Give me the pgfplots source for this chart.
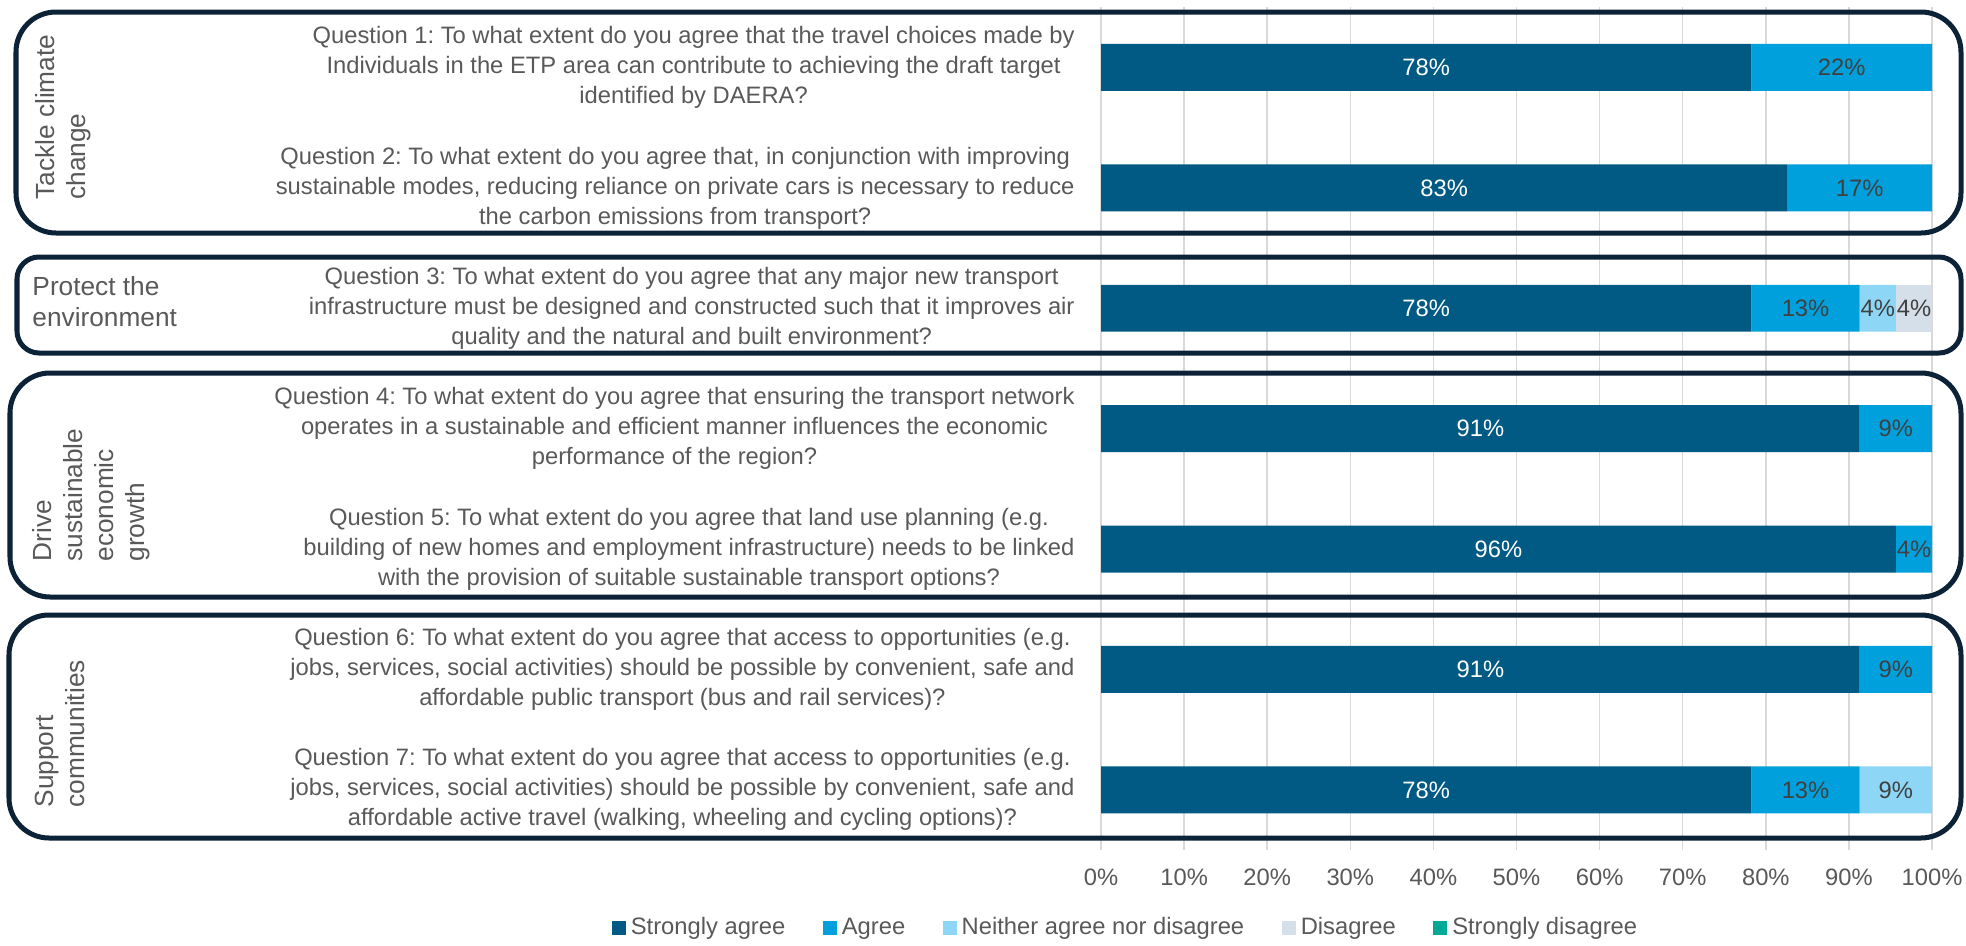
\documentclass[border=0pt]{standalone}
\usepackage{fontspec}
\setmainfont{Liberation Sans}
\usepackage{pgfplots}
\usepackage{pgfplotstable}
\pgfplotsset{compat=1.18}
\frenchspacing
\definecolor{sa}{HTML}{005A84}
\definecolor{ag}{HTML}{00A0DC}
\definecolor{ne}{HTML}{8DD6F5}
\definecolor{di}{HTML}{D5DFE9}
\definecolor{sd}{HTML}{00A896}
\definecolor{framec}{HTML}{0C2337}
\definecolor{txt}{HTML}{595959}
\definecolor{lbl}{HTML}{404040}
\definecolor{grd}{HTML}{D9D9D9}

\pgfplotstableread{
q sa ag ne di sd
0 78.26 21.74 0 0 0
1 82.61 17.39 0 0 0
2 78.26 13.04 4.35 4.35 0
3 91.30 8.70 0 0 0
4 95.65 4.35 0 0 0
5 91.30 8.70 0 0 0
6 78.26 13.04 8.70 0 0
}\tabdata

% label positions (segment midpoints) and rounded values
\pgfplotstableread{
x q lab
39.13 0 78
41.30 1 83
39.13 2 78
45.65 3 91
47.83 4 96
45.65 5 91
39.13 6 78
}\whitelabels
\pgfplotstableread{
x q lab
89.13 0 22
91.30 1 17
84.78 2 13
93.48 2 4
97.83 2 4
95.65 3 9
97.83 4 4
95.65 5 9
84.78 6 13
95.65 6 9
}\darklabels

\pgfplotsset{sqlegend/.style={legend image code/.code={\fill[##1] (0pt,-2.8pt) rectangle (5.6pt,2.8pt);}},
  frameaxis/.style={at={(440.4pt,-340pt)}, anchor=south west,
  scale only axis, width=332.4pt, height=337.1pt,
  xmin=0, xmax=100, ymin=-0.5, ymax=6.5, y dir=reverse}}

\begin{document}
\begin{tikzpicture}
\path[use as bounding box, fill=white] (0,0) rectangle (786.4pt,-378pt);
\begin{axis}[
  frameaxis,
  xbar stacked, bar width=0.39,
  xtick={0,10,...,100},
  xticklabels={0\%,10\%,20\%,30\%,40\%,50\%,60\%,70\%,80\%,90\%,100\%},
  xmajorgrids, major grid style={grd, line width=0.6pt},
  axis line style={draw=none}, tick style={draw=none},
  xticklabel style={font=\fontsize{9.5}{11}\selectfont, text=txt, inner sep=0pt, yshift=-7.4pt},
  ytick={0,...,6},
  yticklabels={
    {Question 1: To what extent do you agree that the travel choices made by\\Individuals in the ETP area can contribute to achieving the draft target\\identified by DAERA?},
    {Question 2: To what extent do you agree that, in conjunction with improving\\sustainable modes, reducing reliance on private cars is necessary to reduce\\the carbon emissions from transport?},
    {Question 3: To what extent do you agree that any major new transport\\infrastructure must be designed and constructed such that it improves air\\quality and the natural and built environment?},
    {Question 4: To what extent do you agree that ensuring the transport network\\operates in a sustainable and efficient manner influences the economic\\performance of the region?},
    {Question 5: To what extent do you agree that land use planning (e.g.\\building of new homes and employment infrastructure) needs to be linked\\with the provision of suitable sustainable transport options?},
    {Question 6: To what extent do you agree that access to opportunities (e.g.\\jobs, services, social activities) should be possible by convenient, safe and\\affordable public transport (bus and rail services)?},
    {Question 7: To what extent do you agree that access to opportunities (e.g.\\jobs, services, social activities) should be possible by convenient, safe and\\affordable active travel (walking, wheeling and cycling options)?}
  },
  yticklabel style={align=center, font=\fontsize{9.5}{12}\selectfont, text=txt, inner sep=0pt, xshift=-10.4pt},
  legend columns=5,
  legend style={at={(0.0313,-0.0926)}, anchor=center, draw=none, fill=none,
    font=\fontsize{9.5}{11}\selectfont, text=txt,
    /tikz/every even column/.append style={column sep=13pt}},
  sqlegend,
]
\addplot[fill=sa, draw=none] table[x=sa, y=q] {\tabdata};
\addplot[fill=ag, draw=none] table[x=ag, y=q] {\tabdata};
\addplot[fill=ne, draw=none] table[x=ne, y=q] {\tabdata};
\addplot[fill=di, draw=none] table[x=di, y=q] {\tabdata};
\addplot[fill=sd, draw=none] table[x=sd, y=q] {\tabdata};
\legend{Strongly agree, Agree, Neither agree nor disagree, Disagree, Strongly disagree}
\end{axis}
\begin{axis}[frameaxis, hide axis]
\addplot[only marks, mark=none, nodes near coords={\pgfplotspointmeta\%},
  point meta=explicit symbolic,
  every node near coord/.append style={anchor=center, inner sep=0pt, text=white, font=\fontsize{9.5}{11}\selectfont}]
  table[x=x, y=q, meta=lab] {\whitelabels};
\addplot[only marks, mark=none, nodes near coords={\pgfplotspointmeta\%},
  point meta=explicit symbolic,
  every node near coord/.append style={anchor=center, inner sep=0pt, text=lbl, font=\fontsize{9.5}{11}\selectfont}]
  table[x=x, y=q, meta=lab] {\darklabels};
\end{axis}
\begin{scope}[x=0.4pt, y=-0.4pt]
\draw[framec, line width=2pt, rounded corners=16pt] (16,12) rectangle (1961,233);
\draw[framec, line width=2pt, rounded corners=8.8pt] (17,257) rectangle (1961,353);
\draw[framec, line width=2pt, rounded corners=16pt] (10,373) rectangle (1961,597);
\draw[framec, line width=2pt, rounded corners=16pt] (9,615) rectangle (1961,838);
\node[rotate=90, anchor=north west, align=left, inner sep=0pt, font=\fontsize{10.5}{12.4}\selectfont, text=txt] at (35,200) {Tackle climate\\change};
\node[anchor=north west, align=left, inner sep=0pt, font=\fontsize{10.5}{12.4}\selectfont, text=txt] at (32,276) {Protect the\\environment};
\node[rotate=90, anchor=north west, align=left, inner sep=0pt, font=\fontsize{10.5}{12.4}\selectfont, text=txt] at (32,562) {Drive\\sustainable\\economic\\growth};
\node[rotate=90, anchor=north west, align=left, inner sep=0pt, font=\fontsize{10.5}{12.4}\selectfont, text=txt] at (35,808) {Support\\communities};
\end{scope}
\end{tikzpicture}
\end{document}
